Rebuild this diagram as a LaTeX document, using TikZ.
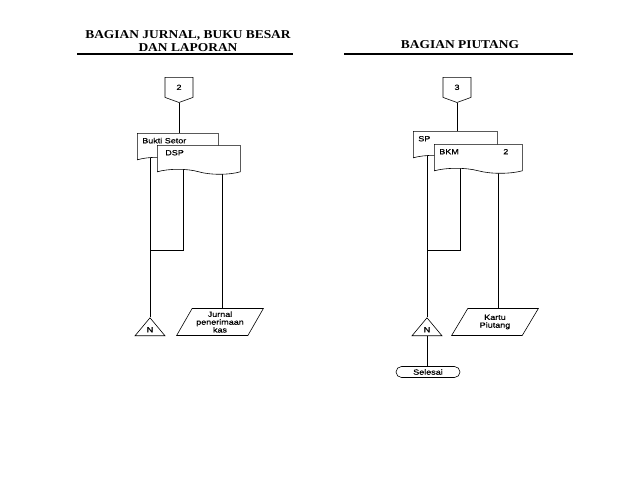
\documentclass[tikz,border=0pt]{standalone}
\usepackage{fontspec}
\newfontfamily\judulfont{Liberation Serif}[FakeStretch=1.12]
\newfontfamily\labelfont{Liberation Sans}[FakeStretch=1.2,FakeBold=0.6]
\usetikzlibrary{shapes.geometric,shapes.symbols,backgrounds}

\tikzset{
  garis/.style={line width=0.6pt},
  judul/.style={font=\judulfont\bfseries\fontsize{12}{12.5}\selectfont, align=center},
  label kecil/.style={font=\labelfont\fontsize{7.5}{7.8}\selectfont},
  dokumen/.style={draw, fill=white, garis, label kecil, tape, tape bend top=none,
    tape bend bottom=out and in, tape bend height=5pt, anchor=north west,
    minimum height=29pt, inner ysep=0pt, inner xsep=5pt, text height=8.5pt,
    text depth=12.5pt, align=left},
  offpage/.style={draw, fill=white, garis, label kecil, signal, signal to=south,
    signal from=nowhere, signal pointer angle=140, minimum width=28pt,
    minimum height=21pt, inner sep=0pt, anchor=north},
  arsip/.style={draw, fill=white, garis, label kecil, isosceles triangle,
    shape border rotate=90, isosceles triangle stretches, minimum width=30pt,
    minimum height=18pt, inner sep=0pt, anchor=apex},
  data/.style={draw, fill=white, garis, label kecil, trapezium,
    trapezium left angle=58, trapezium right angle=122, trapezium stretches=true,
    minimum width=87pt, minimum height=27pt, inner sep=0pt, align=center},
  terminal/.style={draw, fill=white, garis, label kecil, rectangle,
    rounded corners=5.5pt, minimum width=64pt, minimum height=11pt, inner sep=0pt}
}

\begin{document}
\begin{tikzpicture}[x=1pt,y=-1pt]
\useasboundingbox (0,0) rectangle (638,479);

% Bagian Jurnal, Buku Besar dan Laporan (kiri)
\begin{scope}
    \node[judul] (judul1) at (188,41) {BAGIAN JURNAL, BUKU BESAR\\DAN LAPORAN};
    \draw[line width=1.2pt] (77,54) -- (293,54);

    \node[offpage] (kon2) at (179,77) {2};
    \node[dokumen, minimum width=81pt, text width=71pt] (bukti) at (137,133) {Bukti Setor};
    \node[dokumen, minimum width=83pt, text width=73pt] (dsp) at (157,145) {\hspace*{3pt}DSP};
    \node[arsip] (arsip1) at (150,317) {N};
    \node[data] (jurnal) at (220,322) {Jurnal\\penerimaan\\kas};
    \coordinate (gabung1) at (150,250);

    % Garis alir (di belakang dokumen)
    \begin{scope}[on background layer]
        \draw[garis] (kon2.south) -- (kon2.south |- bukti.north);
        \draw[garis] (bukti.center -| arsip1.apex) -- (arsip1.apex);
        \draw[garis] ([xshift=26pt]dsp.west) |- (gabung1);
        \draw[garis] ([xshift=65pt]dsp.west) coordinate (dsp-k) -- (dsp-k |- jurnal.north);
    \end{scope}
\end{scope}

% Bagian Piutang (kanan)
\begin{scope}[xshift=277pt]
    \node[judul] (judul2) at (183,45) {BAGIAN PIUTANG};
    \draw[line width=1.2pt] (67,54) -- (296,54);

    \node[offpage] (kon3) at (180,77) {3};
    \node[dokumen, minimum width=84pt, text width=74pt] (sp) at (136,131) {SP};
    \node[dokumen, minimum width=88pt, text width=78pt] (bkm) at (157,144) {\makebox[69pt][s]{BKM\hfill 2}};
    \node[arsip] (arsip2) at (150,317) {N};
    \node[data] (kartu) at (218,322) {Kartu\\Piutang};
    \node[terminal] (selesai) at (151,372) {Selesai};
    \coordinate (gabung2) at (150,250);

    % Garis alir (di belakang dokumen)
    \begin{scope}[on background layer]
        \draw[garis] (kon3.south) -- (kon3.south |- sp.north);
        \draw[garis] (sp.center -| arsip2.apex) -- (arsip2.apex);
        \draw[garis] ([xshift=26pt]bkm.west) |- (gabung2);
        \draw[garis] ([xshift=64pt]bkm.west) coordinate (bkm-k) -- (bkm-k |- kartu.north);
        \draw[garis] (arsip2.south) -- (arsip2.south |- selesai.north);
    \end{scope}
\end{scope}

\end{tikzpicture}
\end{document}
